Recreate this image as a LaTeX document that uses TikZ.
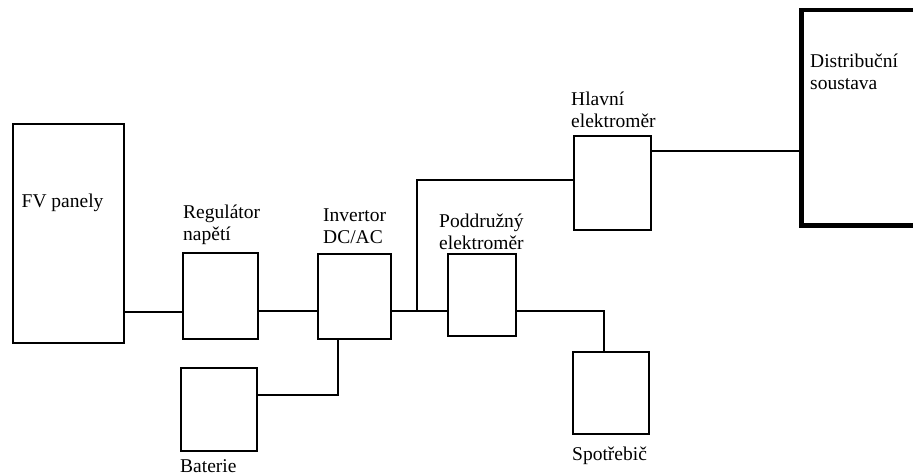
\documentclass[tikz,border=0pt]{standalone}
\usepackage{fontspec}
\setmainfont{Liberation Serif}
\begin{document}
\begin{tikzpicture}[x=1pt,y=-1pt,
  box/.style={draw, line width=1.8pt, inner sep=0pt, anchor=north west},
  lbl/.style={inner sep=0pt, anchor=base west, align=left, font=\fontsize{19.5}{22}\selectfont},
  wire/.style={line width=1.8pt}]
\clip (0,0) rectangle (913,476);
\fill[white] (0,0) rectangle (913,476);
% boxes
\node[box, minimum width=111pt, minimum height=219pt] (fv) at (12,123) {};
\node[box, minimum width=75pt, minimum height=86pt] (reg) at (182,252) {};
\node[box, minimum width=73pt, minimum height=85pt] (inv) at (317,253) {};
\node[box, minimum width=76pt, minimum height=83pt] (bat) at (180,367) {};
\node[box, minimum width=68pt, minimum height=82pt] (pod) at (447,253) {};
\node[box, minimum width=77pt, minimum height=94pt] (hl) at (573,135) {};
\node[box, minimum width=76pt, minimum height=82pt] (sp) at (572,351) {};
\node[box, line width=4.5pt, minimum width=150pt, minimum height=215pt] (ds) at (799,8) {};
% labels (base anchor = baseline of last line)
\node[lbl] (fvl) at (21.5,207) {FV panely};
\node[lbl] (regl) at (183,240) {Regulátor\\napětí};
\node[lbl] (invl) at (323,243) {Invertor\\DC/AC};
\node[lbl] (batl) at (180,472.5) {Baterie};
\node[lbl] (podl) at (439,249) {Poddružný\\elektroměr};
\node[lbl] (hll) at (571,128) {Hlavní\\elektroměr};
\node[lbl] (dsl) at (810,90) {Distribuční\\soustava};
\node[lbl] (spl) at (572,460) {Spotřebič};
% connectors
\draw[wire] (fv.east |- 0,312) -- (reg.west |- 0,312);
\draw[wire] (reg.east |- 0,311) -- (inv.west |- 0,311);
\draw[wire] (inv.east |- 0,311) -- (pod.west |- 0,311);
\coordinate (j) at (417,311);
\draw[wire] (j) |- (hl.west |- 0,180);
\draw[wire] (hl.east |- 0,151) -- (ds.west |- 0,151);
\draw[wire] (pod.east |- 0,311) -| (sp.north -| 604,0);
\draw[wire] (bat.east |- 0,395) -| (inv.south -| 338,0);
\end{tikzpicture}
\end{document}
